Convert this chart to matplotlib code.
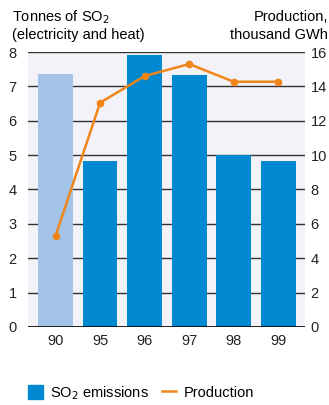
import matplotlib.pyplot as plt
from matplotlib.patches import Patch
from matplotlib.lines import Line2D

plt.rcParams['font.family'] = ['Liberation Sans', 'DejaVu Sans']

years = ['90', '95', '96', '97', '98', '99']
so2 = [7.36, 4.83, 7.9, 7.33, 5.0, 4.83]
production = [5.3, 13.05, 14.6, 15.3, 14.27, 14.27]
left_ticks = [0, 1, 2, 3, 4, 5, 6, 7, 8]
right_ticks = [0, 2, 4, 6, 8, 10, 12, 14, 16]

blue = '#0088d0'
light_blue = '#a3c4e8'
orange = '#f0861a'
fs = 10.5

fig = plt.figure(figsize=(3.29, 4.05), dpi=100)
ax = fig.add_axes([0.085, 0.1926, 0.842, 0.679])
ax.set_facecolor('#f2f2f8')

x = list(range(len(years)))
colors = [light_blue] + [blue] * (len(years) - 1)
ax.bar(x, so2, width=0.78, color=colors, zorder=3)

# grid lines behind the bars
for t in left_ticks[1:]:
    ax.axhline(t, color='#333333', linewidth=1, zorder=1)
ax.axhline(0, color='black', linewidth=1.2, zorder=4)

ax.set_xlim(-0.62, 5.6)
ax.set_ylim(0, 8)
ax.set_yticks(left_ticks)
ax.set_xticks(x)
ax.set_xticklabels(years)
ax.tick_params(length=0, labelsize=fs, colors='#222222', pad=8)
ax.tick_params(axis='x', pad=5)
for s in ax.spines.values():
    s.set_visible(False)

ax2 = ax.twinx()
ax2.plot(x, production, color=orange, linewidth=1.8, marker='o', markersize=4.5, zorder=5)
ax2.set_ylim(0, 16)
ax2.set_yticks(right_ticks)
ax2.tick_params(length=0, labelsize=fs, colors='#222222', pad=4)
for s in ax2.spines.values():
    s.set_visible(False)

fig.text(0.036, 0.958, 'Tonnes of SO$_2$', fontsize=fs, va='center', ha='left')
fig.text(0.036, 0.913, '(electricity and heat)', fontsize=fs, va='center', ha='left')
fig.text(0.997, 0.958, 'Production,', fontsize=fs, va='center', ha='right')
fig.text(0.997, 0.913, 'thousand GWh', fontsize=fs, va='center', ha='right')

handles = [Patch(color=blue, label='SO$_2$ emissions'),
           Line2D([], [], color=orange, linewidth=1.8, label='Production')]
fig.legend(handles=handles, loc='center left', bbox_to_anchor=(0.045, 0.03), ncol=2,
           frameon=False, fontsize=fs, handlelength=1.0, handleheight=1.0,
           handletextpad=0.5, columnspacing=0.9)

fig.savefig('out.png', dpi=100)
